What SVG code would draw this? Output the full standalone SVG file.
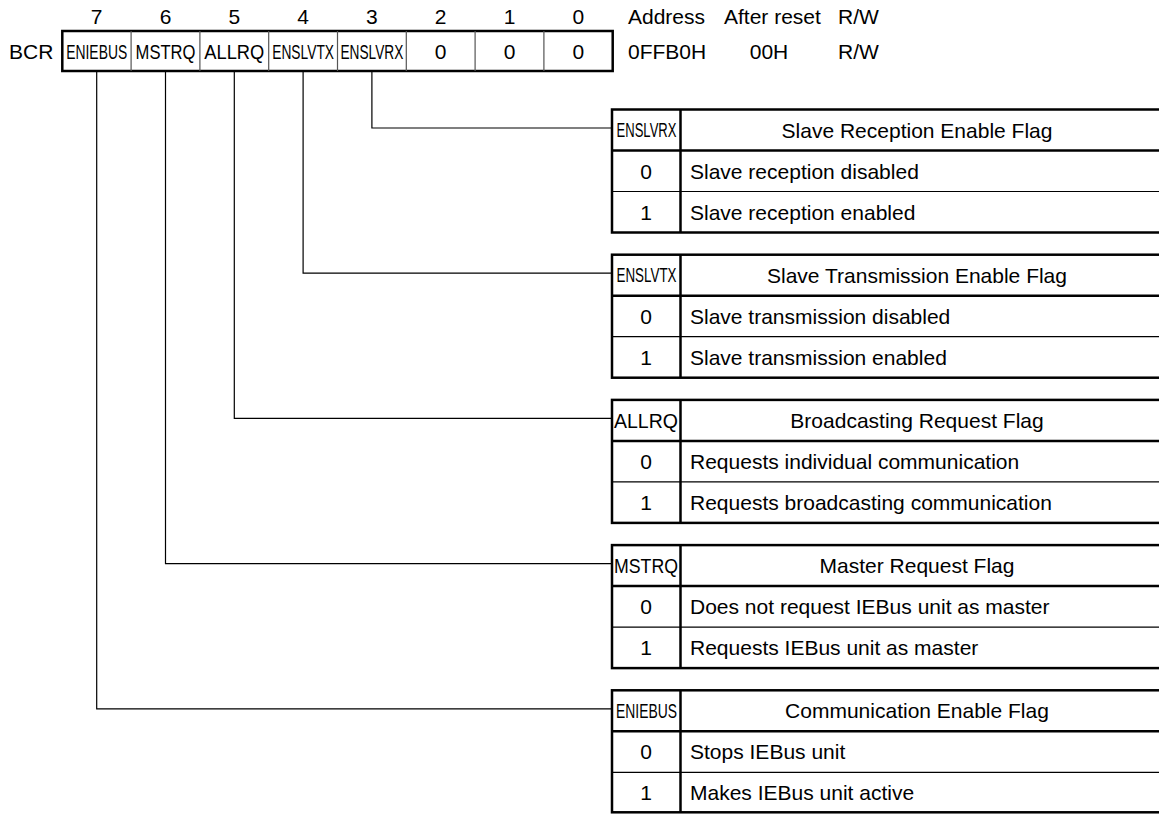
<svg xmlns="http://www.w3.org/2000/svg" width="1159" height="814" viewBox="0 0 1159 814">
<style>
text{font-family:"Liberation Sans",Arial,Helvetica,sans-serif;font-size:21px;fill:#000}
.c{text-anchor:middle}
.n{font-size:20px;text-anchor:middle}
.outer{fill:#fff;stroke:#000;stroke-width:2.5}
.thick{stroke:#000;stroke-width:2.5}
.thin{stroke:#000;stroke-width:1.2}
.cell{stroke:#555;stroke-width:1.2}
.conn{fill:none;stroke:#000;stroke-width:1.2}
</style>
<rect width="1159" height="814" fill="#fff"/>

<g id="register">
  <text x="96.7" y="24" class="c">7</text>
  <text x="165.5" y="24" class="c">6</text>
  <text x="234.3" y="24" class="c">5</text>
  <text x="303.1" y="24" class="c">4</text>
  <text x="371.9" y="24" class="c">3</text>
  <text x="440.7" y="24" class="c">2</text>
  <text x="509.5" y="24" class="c">1</text>
  <text x="578.3" y="24" class="c">0</text>
  <text x="9" y="59">BCR</text>
  <rect x="62.3" y="31" width="550.4" height="40" class="outer"/>
  <line x1="131.1" y1="31" x2="131.1" y2="71" class="cell"/>
  <line x1="199.9" y1="31" x2="199.9" y2="71" class="cell"/>
  <line x1="268.7" y1="31" x2="268.7" y2="71" class="cell"/>
  <line x1="337.5" y1="31" x2="337.5" y2="71" class="cell"/>
  <line x1="406.3" y1="31" x2="406.3" y2="71" class="cell"/>
  <line x1="475.1" y1="31" x2="475.1" y2="71" class="cell"/>
  <line x1="543.9" y1="31" x2="543.9" y2="71" class="cell"/>
  <text class="n" transform="translate(96.7,58.5) scale(0.695,1)">ENIEBUS</text>
  <text class="n" transform="translate(165.5,58.5) scale(0.83,1)">MSTRQ</text>
  <text class="n" transform="translate(234.3,58.5) scale(0.915,1)">ALLRQ</text>
  <text class="n" transform="translate(303.1,58.5) scale(0.69,1)">ENSLVTX</text>
  <text class="n" transform="translate(371.9,58.5) scale(0.685,1)">ENSLVRX</text>
  <text x="440.7" y="59" class="c">0</text>
  <text x="509.5" y="59" class="c">0</text>
  <text x="578.3" y="59" class="c">0</text>
</g>

<g id="register-info">
  <text x="628" y="24">Address</text>
  <text x="724" y="24">After reset</text>
  <text x="838" y="24">R/W</text>
  <text x="628" y="59">0FFB0H</text>
  <text x="769" y="59" class="c">00H</text>
  <text x="838" y="59">R/W</text>
</g>

<g id="connectors">
  <polyline points="371.9,71 371.9,128 612,128" class="conn"/>
  <polyline points="303.1,71 303.1,273.2 612,273.2" class="conn"/>
  <polyline points="234.3,71 234.3,418.4 612,418.4" class="conn"/>
  <polyline points="165.5,71 165.5,563.6 612,563.6" class="conn"/>
  <polyline points="96.7,71 96.7,708.8 612,708.8" class="conn"/>
</g>

<g id="table-enslvrx" transform="translate(0,109.5)">
  <rect x="612" y="0" width="552" height="123" class="outer"/>
  <line x1="612" y1="41" x2="1162" y2="41" class="thick"/>
  <line x1="612" y1="82" x2="1162" y2="82" class="thin"/>
  <line x1="680.5" y1="0" x2="680.5" y2="123" class="thick"/>
  <text class="n" transform="translate(646.5,27.5) scale(0.653,1)">ENSLVRX</text>
  <text x="917" y="28" class="c">Slave Reception Enable Flag</text>
  <text x="646" y="69" class="c">0</text>
  <text x="690" y="69">Slave reception disabled</text>
  <text x="646" y="110" class="c">1</text>
  <text x="690" y="110">Slave reception enabled</text>
</g>

<g id="table-enslvtx" transform="translate(0,254.7)">
  <rect x="612" y="0" width="552" height="123" class="outer"/>
  <line x1="612" y1="41" x2="1162" y2="41" class="thick"/>
  <line x1="612" y1="82" x2="1162" y2="82" class="thin"/>
  <line x1="680.5" y1="0" x2="680.5" y2="123" class="thick"/>
  <text class="n" transform="translate(646.5,27.5) scale(0.669,1)">ENSLVTX</text>
  <text x="917" y="28" class="c">Slave Transmission Enable Flag</text>
  <text x="646" y="69" class="c">0</text>
  <text x="690" y="69">Slave transmission disabled</text>
  <text x="646" y="110" class="c">1</text>
  <text x="690" y="110">Slave transmission enabled</text>
</g>

<g id="table-allrq" transform="translate(0,399.9)">
  <rect x="612" y="0" width="552" height="123" class="outer"/>
  <line x1="612" y1="41" x2="1162" y2="41" class="thick"/>
  <line x1="612" y1="82" x2="1162" y2="82" class="thin"/>
  <line x1="680.5" y1="0" x2="680.5" y2="123" class="thick"/>
  <text class="n" transform="translate(646,28) scale(0.976,1)">ALLRQ</text>
  <text x="917" y="28" class="c">Broadcasting Request Flag</text>
  <text x="646" y="69" class="c">0</text>
  <text x="690" y="69">Requests individual communication</text>
  <text x="646" y="110" class="c">1</text>
  <text x="690" y="110">Requests broadcasting communication</text>
</g>

<g id="table-mstrq" transform="translate(0,545.1)">
  <rect x="612" y="0" width="552" height="123" class="outer"/>
  <line x1="612" y1="41" x2="1162" y2="41" class="thick"/>
  <line x1="612" y1="82" x2="1162" y2="82" class="thin"/>
  <line x1="680.5" y1="0" x2="680.5" y2="123" class="thick"/>
  <text class="n" transform="translate(646,28) scale(0.886,1)">MSTRQ</text>
  <text x="917" y="28" class="c">Master Request Flag</text>
  <text x="646" y="69" class="c">0</text>
  <text x="690" y="69">Does not request IEBus unit as master</text>
  <text x="646" y="110" class="c">1</text>
  <text x="690" y="110">Requests IEBus unit as master</text>
</g>

<g id="table-eniebus" transform="translate(0,690.3)">
  <rect x="612" y="0" width="552" height="122" class="outer"/>
  <line x1="612" y1="41" x2="1162" y2="41" class="thick"/>
  <line x1="612" y1="82" x2="1162" y2="82" class="thin"/>
  <line x1="680.5" y1="0" x2="680.5" y2="122" class="thick"/>
  <text class="n" transform="translate(646.5,27.5) scale(0.695,1)">ENIEBUS</text>
  <text x="917" y="28" class="c">Communication Enable Flag</text>
  <text x="646" y="69" class="c">0</text>
  <text x="690" y="69">Stops IEBus unit</text>
  <text x="646" y="110" class="c">1</text>
  <text x="690" y="110">Makes IEBus unit active</text>
</g>
</svg>
